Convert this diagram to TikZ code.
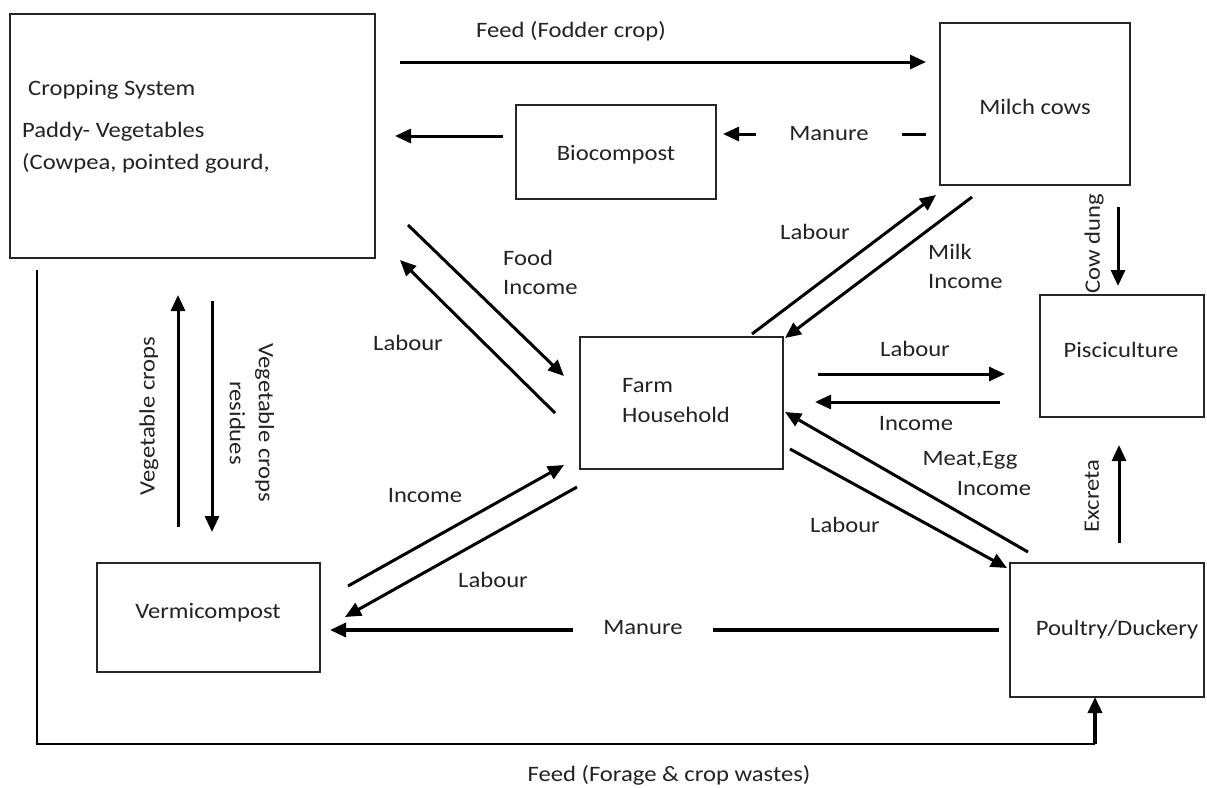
\documentclass[tikz,border=0pt]{standalone}
\usepackage{fontspec}
\setmainfont[FakeStretch=1.12]{Carlito}
\usetikzlibrary{arrows.meta}
\definecolor{txt}{RGB}{34,34,40}
\begin{document}
\begin{tikzpicture}[x=1pt,y=-1pt,
  box/.style={draw=black!85, line width=1.9pt, inner sep=0pt, fill=none},
  lbl/.style={font=\fontsize{22}{26}\selectfont, text=txt, inner sep=0pt},
  arr/.style={line width=3pt, -{Triangle[length=16pt,width=14pt]}},
  ln/.style={line width=3pt}]
\useasboundingbox[fill=white] (0,0) rectangle (1207,787);

% boxes
\node[box, minimum width=365pt, minimum height=244pt] (crop) at (192.5,136) {};
\node[box, minimum width=190pt, minimum height=162pt] (milch) at (1035,104) {};
\node[box, minimum width=200pt, minimum height=94pt] (bio) at (616,152) {};
\node[box, minimum width=164pt, minimum height=122pt] (pisc) at (1122,356) {};
\node[box, minimum width=194pt, minimum height=134pt] (poul) at (1107,630) {};
\node[box, minimum width=203pt, minimum height=132pt] (farm) at (681.5,403) {};
\node[box, minimum width=223pt, minimum height=109pt] (verm) at (208.5,617.5) {};

% box texts
\node[lbl, anchor=west] (cropT1) at (28,90) {Cropping System};
\node[lbl, anchor=west] (cropT2) at (22,132) {Paddy- Vegetables};
\node[lbl, anchor=west] (cropT3) at (22,163) {(Cowpea, pointed gourd,};
\node[lbl] (milchT) at (1035,107) {Milch cows};
\node[lbl] (bioT) at (616,155) {Biocompost};
\node[lbl] (piscT) at (1121,350) {Pisciculture};
\node[lbl] (poulT) at (1117,630) {Poultry/Duckery};
\node[lbl, anchor=west] (farmT1) at (622,386) {Farm};
\node[lbl, anchor=west] (farmT2) at (622,415) {Household};
\node[lbl] (vermT) at (208,613) {Vermicompost};

% Feed (Fodder crop)
\coordinate (ff1) at (400,62); \coordinate (ff2) at (926,62);
\draw[arr] (ff1) -- (ff2);
\node[lbl] (fodderL) at (571,31) {Feed (Fodder crop)};

% Manure milch -> biocompost
\coordinate (mt1) at (926,134); \coordinate (mt2) at (723,134);
\draw[arr] (mt1) -- (mt2);
\node[lbl, fill=white, inner xsep=33pt, inner ysep=5pt] (manT) at (829,134) {Manure};

% biocompost -> cropping
\coordinate (bc1) at (503,136); \coordinate (bc2) at (395,136);
\draw[arr] (bc1) -- (bc2);

% Cow dung
\coordinate (cd1) at (1118,207); \coordinate (cd2) at (1118,286);
\draw[arr] (cd1) -- (cd2);
\node[lbl, rotate=90] (cdL) at (1094,244) {Cow dung};

% Excreta
\coordinate (ex1) at (1119,543); \coordinate (ex2) at (1119,445);
\draw[arr] (ex1) -- (ex2);
\node[lbl, rotate=90] (exL) at (1092,496) {Excreta};

% Farm <-> Milch cows
\coordinate (fm1) at (752,334); \coordinate (fm2) at (936,195);
\draw[arr] (fm1) -- (fm2);
\coordinate (mf1) at (972,197); \coordinate (mf2) at (785,338);
\draw[arr] (mf1) -- (mf2);
\node[lbl] (fmL) at (815,232) {Labour};
\node[lbl, anchor=west] (mfL1) at (928,252) {Milk};
\node[lbl, anchor=west] (mfL2) at (928,282) {Income};

% Cropping <-> Farm
\coordinate (cf1) at (408,225); \coordinate (cf2) at (564,376);
\draw[arr] (cf1) -- (cf2);
\coordinate (fc1) at (555,413); \coordinate (fc2) at (400,260);
\draw[arr] (fc1) -- (fc2);
\node[lbl, anchor=west] (cfL1) at (503,258) {Food};
\node[lbl, anchor=west] (cfL2) at (503,288) {Income};
\node[lbl] (fcL) at (408,343) {Labour};

% Farm <-> Vermicompost
\coordinate (vf1) at (348,586); \coordinate (vf2) at (564,465);
\draw[arr] (vf1) -- (vf2);
\coordinate (fv1) at (577,487); \coordinate (fv2) at (345,617);
\draw[arr] (fv1) -- (fv2);
\node[lbl] (vfL) at (425,496) {Income};
\node[lbl] (fvL) at (493,580) {Labour};

% Farm <-> Pisciculture
\coordinate (fp1) at (818,374); \coordinate (fp2) at (1005,374);
\draw[arr] (fp1) -- (fp2);
\coordinate (pf1) at (1000,402); \coordinate (pf2) at (815,402);
\draw[arr] (pf1) -- (pf2);
\node[lbl] (fpL) at (915,349) {Labour};
\node[lbl] (pfL) at (916,424) {Income};

% Farm <-> Poultry
\coordinate (qf1) at (1028,552); \coordinate (qf2) at (785,412);
\draw[arr] (qf1) -- (qf2);
\coordinate (fq1) at (790,449); \coordinate (fq2) at (1007,568);
\draw[arr] (fq1) -- (fq2);
\node[lbl] (qfL1) at (970,460) {Meat,Egg};
\node[lbl] (qfL2) at (994,489) {Income};
\node[lbl] (fqL) at (845,525) {Labour};

% Vegetable crops
\coordinate (vc1) at (178,527); \coordinate (vc2) at (178,295);
\draw[arr] (vc1) -- (vc2);
\coordinate (vr1) at (212,301); \coordinate (vr2) at (212,532);
\draw[arr] (vr1) -- (vr2);
\node[lbl, rotate=90] (vcL) at (149,416) {Vegetable crops};
\node[lbl, rotate=-90, align=center] (vrL) at (252,423) {Vegetable crops\\[3pt]residues};

% Manure poultry -> vermicompost
\coordinate (mb1) at (999,630); \coordinate (mb2) at (330,630);
\draw[arr, line width=3.4pt] (mb1) -- (mb2);
\node[lbl, fill=white, inner xsep=30pt, inner ysep=5pt] (manB) at (643,628) {Manure};

% Feed (Forage & crop wastes)
\coordinate (fw0) at (37,270); \coordinate (fw1) at (37,744);
\coordinate (fw2) at (1095,744); \coordinate (fw3) at (1095,697);
\draw[line width=2pt] (fw0) -- (fw1) -- (fw2);
\draw[arr, line width=3.6pt] (fw2) -- (fw3);
\node[lbl] (fwL) at (669,775) {Feed (Forage \& crop wastes)};
\end{tikzpicture}
\end{document}
